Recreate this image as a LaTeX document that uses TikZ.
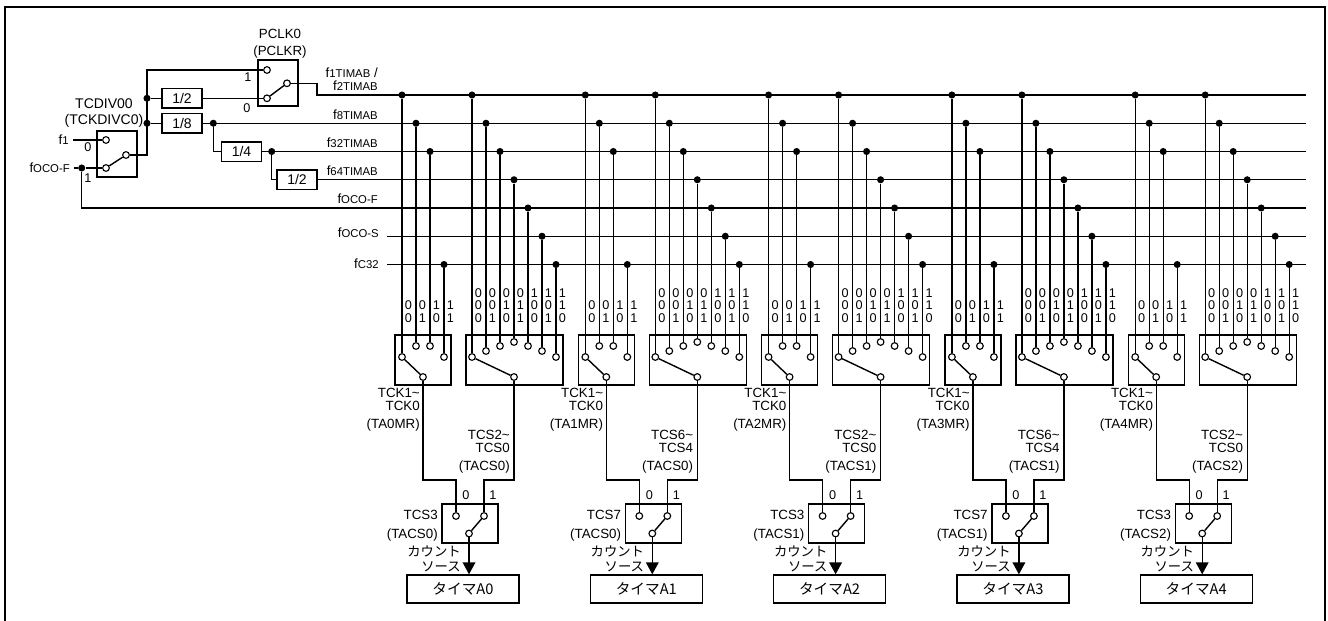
\documentclass[tikz,border=0pt]{standalone}
\usepackage{fontspec}
\setmainfont{Liberation Sans}
\newfontfamily\jpfont{Noto Sans CJK JP}
\usetikzlibrary{positioning, arrows.meta}
\newcommand{\fsub}[1]{f{\fontsize{8.5}{8.5}\selectfont #1}}
\tikzset{wire/.style={line width=1.05pt},
  pin/.style={circle, draw, line width=0.85pt, fill=white, inner sep=0pt, minimum size=5pt},
  jdot/.style={circle, fill, inner sep=0pt, minimum size=5.3pt},
  selbox/.style={draw, line width=1pt, inner sep=0pt},
  divbox/.style={draw, line width=1pt, inner sep=0pt, minimum width=30pt, minimum height=14.5pt, font=\fontsize{10.5}{10.5}\selectfont},
  lbl/.style={inner sep=0pt, align=right, font=\fontsize{10}{9.5}\selectfont},
  bit/.style={inner sep=0pt, font=\fontsize{9.5}{9.5}\selectfont},
  jlbl/.style={inner sep=0pt, align=right, font=\jpfont\fontsize{10}{11.5}\selectfont},
  tbox/.style={draw, line width=1pt, minimum width=84pt, minimum height=21pt, inner sep=0pt, font=\jpfont\fontsize{11}{11}\selectfont}}

\begin{document}
\begin{tikzpicture}[x=0.75pt, y=-0.75pt]
	\useasboundingbox (0,0) rectangle (1328,621);
	\draw[line width=1.6pt] (5,625) -- (5,7) -- (1325,7) -- (1325,625);

	% clock selectors
	\node[selbox, minimum width=30pt, minimum height=34.5pt] (tcdiv) at (117,154) {};
	\node[pin] (tcdiv0) at (106,140) {};
	\node[pin] (tcdiv1) at (106,168) {};
	\node[pin] (tcdivo) at (126,155) {};
	\draw[wire] (tcdivo) -- (tcdiv1);
	\node[lbl, align=center, font=\fontsize{10.5}{12.5}\selectfont] (tcdivl) at (104,113) {TCDIV00\\(TCKDIVC0)};
	\node[bit] (tcdivl0) at (88,147) {0};
	\node[bit] (tcdivl1) at (88,178) {1};
	\node[lbl, inner sep=3pt, anchor=east] (fone) at (73,140) {\fsub{1}};
	\node[lbl, inner sep=3pt, anchor=east] (focof) at (74,168) {\fsub{OCO-F}};
	\node[jdot] (focodot) at (81.7,168) {};
	\draw[wire] (fone) -- (tcdiv0);
	\draw[wire] (focof) -- (focodot) -- (tcdiv1);

	\node[selbox, minimum width=30pt, minimum height=34.5pt] (pclk) at (278,83) {};
	\node[pin] (pclk1) at (267,70) {};
	\node[pin] (pclk0) at (267,98.3) {};
	\node[pin] (pclko) at (287,83.3) {};
	\draw[wire] (pclko) -- (pclk0);
	\node[lbl, align=center, font=\fontsize{10}{12.5}\selectfont] (pclkl) at (280,43.5) {PCLK0\\(PCLKR)};
	\node[bit] (pclkl1) at (248,77) {1};
	\node[bit] (pclkl0) at (247,108) {0};

	% dividers
	\coordinate (tj) at (147,70);
	\node[jdot] (d2) at (147,98.3) {};
	\node[jdot] (d8) at (147,123.25) {};
	\node[divbox] (div2) at (182,98.3) {1/2};
	\node[divbox] (div8) at (182,123.25) {1/8};
	\node[divbox] (div4) at (241.5,151.5) {1/4};
	\node[divbox] (div64) at (297,179.75) {1/2};
	\node[jdot] (d8b) at (213.3,123.25) {};
	\node[jdot] (d4b) at (271.7,151.5) {};
	\draw[wire] (tcdivo) -| (tj) -- (pclk1);
	\draw[wire] (d2) -- (div2) -- (pclk0);
	\draw[wire] (d8) -- (div8);
	\draw[wire] (d8b) |- (div4);
	\draw[wire] (d4b) |- (div64);

	% count source lines
	\coordinate (pj) at (317,95);
	\foreach \i/\y in {1/95, 2/123.25, 3/151.5, 4/179.75, 5/208, 6/236.25, 7/264.5}
		\coordinate (L\i) at (1306,\y);
	\coordinate (L6s) at (387,236.25);
	\coordinate (L7s) at (387,264.5);
	\draw[wire] (pclko) -| (pj) -- (L1);
	\draw[wire] (div8) -- (L2);
	\draw[wire] (div4) -- (L3);
	\draw[wire] (div64) -- (L4);
	\draw[wire] (focodot) |- (L5);
	\draw[wire] (L6s) -- (L6);
	\draw[wire] (L7s) -- (L7);
	\node[lbl, anchor=east, font=\fontsize{10}{10}\selectfont] (n1) at (378,79) {\fsub{1TIMAB} /\\\fsub{2TIMAB}};
	\node[lbl, anchor=east] (n2) at (378,115) {\fsub{8TIMAB}};
	\node[lbl, anchor=east] (n3) at (378,142.5) {\fsub{32TIMAB}};
	\node[lbl, anchor=east] (n4) at (378,170.5) {\fsub{64TIMAB}};
	\node[lbl, anchor=east] (n5) at (378,198.5) {\fsub{OCO-F}};
	\node[lbl, anchor=east] (n6) at (379,233) {\fsub{OCO-S}};
	\node[lbl, anchor=east] (n7) at (379,263.5) {\fsub{C32}};

	% timers A0..A4
	\foreach \k/\mr/\hi/\lo/\cs/\sel/\tmr in {0/TA0MR/2/0/TACS0/3/A0, 1/TA1MR/6/4/TACS0/7/A1, 2/TA2MR/2/0/TACS1/3/A2, 3/TA3MR/6/4/TACS1/7/A3, 4/TA4MR/2/0/TACS2/3/A4}{
		\pgfmathsetmacro\xo{402+183.3*\k}
		\begin{scope}[shift={(\xo,0)}]
		\node[selbox, minimum width=42pt, minimum height=37.5pt] (selS\k) at (21,360) {};
		\foreach \i/\dx/\py/\ly/\a/\b in {1/0/357/95/0/0, 2/14/346/123.25/0/1, 3/28/346/151.5/1/0, 4/42/357/264.5/1/1}{
			\node[jdot] (sd\k\i) at (\dx,\ly) {};
			\node[pin] (sp\k\i) at (\dx,\py) {};
			\draw[wire] (sd\k\i) -- (sp\k\i);
			\node[bit] (sa\k\i) at (\dx+6.5,305) {\a};
			\node[bit] (sb\k\i) at (\dx+6.5,318) {\b};
		}
		\node[pin] (so\k) at (21,377) {};
		\draw[wire] (so\k) -- (sp\k1);

		\node[selbox, minimum width=72.75pt, minimum height=37.5pt] (selB\k) at (112.5,360) {};
		\foreach \i/\py/\a/\b/\c in {0/357/0/0/0, 1/351/0/0/1, 2/346/0/1/0, 3/342/0/1/1, 4/346/1/0/0, 5/351/1/0/1, 6/357/1/1/0}{
			\node[jdot] (bd\k\i) at (70+14*\i,95+28.25*\i) {};
			\node[pin] (bp\k\i) at (70+14*\i,\py) {};
			\draw[wire] (bd\k\i) -- (bp\k\i);
			\node[bit] (ba\k\i) at (76.5+14*\i,293) {\a};
			\node[bit] (bb\k\i) at (76.5+14*\i,305) {\b};
			\node[bit] (bc\k\i) at (76.5+14*\i,318) {\c};
		}
		\node[pin] (bo\k) at (112,377) {};
		\draw[wire] (bo\k) -- (bp\k0);

		\node[selbox, minimum width=42pt, minimum height=29.25pt] (selF\k) at (68,523.5) {};
		\node[pin] (fp\k0) at (54,516) {};
		\node[pin] (fp\k1) at (82,516) {};
		\node[pin] (fo\k) at (67,533.5) {};
		\draw[wire] (fo\k) -- (fp\k1);
		\coordinate (ja\k) at (54,480);
		\coordinate (jb\k) at (82,480);
		\draw[wire] (so\k) |- (ja\k) -- (fp\k0);
		\draw[wire] (bo\k) |- (jb\k) -- (fp\k1);
		\node[bit] (lz\k) at (64,495) {0};
		\node[bit] (lo\k) at (91,495) {1};

		\node[tbox] (tm\k) at (61,589) {タイマ\tmr};
		\draw[wire, -{Triangle[length=9pt,width=9.5pt]}] (fo\k) -- (fo\k |- tm\k.north);

		\node[lbl, anchor=east] (lk\k) at (18,410) {TCK1\textasciitilde\\TCK0\\[4.5pt](\mr)};
		\node[lbl, anchor=east] (ls\k) at (108,452) {TCS\hi\textasciitilde\\TCS\lo\\[4.5pt](\cs)};
		\node[lbl, anchor=east] (lf\k) at (36,526) {TCS\sel\\[4.5pt](\cs)};
		\node[jlbl, anchor=east] (lc\k) at (59,559) {カウント\\ソース};
		\end{scope}
	}
\end{tikzpicture}
\end{document}
